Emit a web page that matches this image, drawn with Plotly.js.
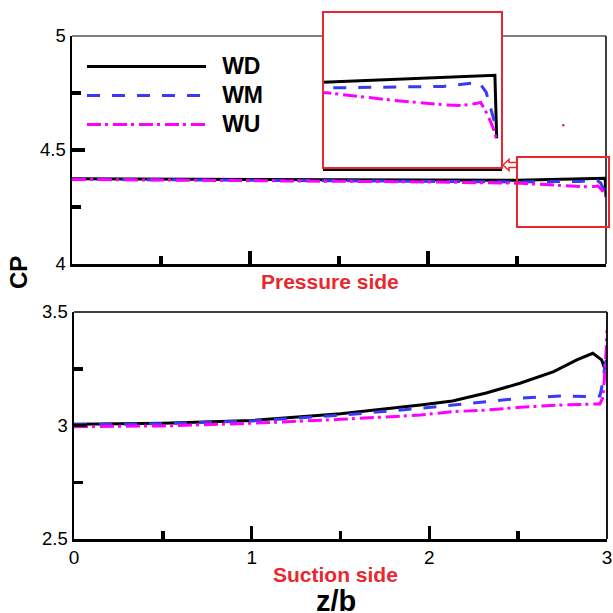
<!DOCTYPE html>
<html>
<head>
<meta charset="utf-8">
<script src="https://cdn.plot.ly/plotly-3.0.1.min.js"></script>
<style>html,body{margin:0;padding:0;background:#fff;}#chart{width:613px;height:613px;}</style>
</head>
<body>
<div id="chart"></div>
<script>
// ---------- data ----------
var seriesNames = ['WD', 'WM', 'WU'];

// Pressure side
var psX_WD = [0, 1, 2, 2.5, 2.995, 3.0];
var psCp_WD = [4.374, 4.371, 4.368, 4.367, 4.376, 4.297];
var psX_WM = [0, 1, 2, 2.5, 2.85, 2.93, 2.95, 2.97, 2.985, 3.0];
var psCp_WM = [4.372, 4.368, 4.364, 4.360, 4.362, 4.366, 4.367, 4.355, 4.330, 4.308];
var psX_WU = [0, 1, 2, 2.52, 2.7, 2.85, 2.9, 2.945, 2.955, 2.975, 2.99, 3.0];
var psCp_WU = [4.371, 4.366, 4.360, 4.354, 4.345, 4.339, 4.338, 4.341, 4.342, 4.326, 4.310, 4.295];

// Suction side
var ssX_WD = [0, 0.5, 1, 1.5, 1.95, 2.13, 2.32, 2.51, 2.7, 2.83, 2.92, 2.97, 2.985, 3.0];
var ssCp_WD = [3.005, 3.010, 3.022, 3.052, 3.090, 3.108, 3.143, 3.186, 3.237, 3.289, 3.318, 3.289, 3.255, 3.290];
var ssX_WM = [0, 0.5, 1, 1.5, 1.95, 2.13, 2.32, 2.51, 2.735, 2.9, 2.96, 2.975, 2.99, 3.0];
var ssCp_WM = [3.003, 3.008, 3.020, 3.045, 3.076, 3.090, 3.108, 3.120, 3.130, 3.127, 3.130, 3.186, 3.274, 3.300];
var ssX_WU = [0, 0.5, 1, 1.5, 1.95, 2.13, 2.32, 2.51, 2.735, 2.96, 2.975, 2.985, 2.995, 3.0];
var ssCp_WU = [2.995, 2.998, 3.010, 3.027, 3.046, 3.061, 3.068, 3.080, 3.090, 3.095, 3.120, 3.200, 3.330, 3.420];

// tick values / labels
var xTickVals = [0, 1, 2, 3];
var xTickText = ['0', '1', '2', '3'];
var psTickVals = [4, 4.5, 5];
var psTickText = ['4', '4.5', '5'];
var ssTickVals = [2.5, 3, 3.5];
var ssTickText = ['2.5', '3', '3.5'];

// ---------- styling ----------
var W = 613, H = 613;
function fx(p) { return p / W; }
function fy(p) { return 1 - p / H; }
var FONT = 'Arial, "Liberation Sans", sans-serif';
var RED = '#e8282e';
var lineStyles = {
  WD: {color: '#000000', width: 3, dash: 'solid'},
  WM: {color: '#3a3af5', width: 3, dash: '13px,12px'},
  WU: {color: '#ff00ff', width: 3, dash: '14px,4px,3px,5px'}
};

function legendLabel(name) {
  return '\u00a0\u00a0<span style="font-size:23px">' + name + '</span>';
}

function tr(x, y, name, xa, ya, showlegend) {
  return {x: x, y: y, name: legendLabel(name), type: 'scatter', mode: 'lines',
    xaxis: xa, yaxis: ya, showlegend: showlegend,
    line: lineStyles[name], hoverinfo: 'skip'};
}

var data = [
  tr(psX_WD, psCp_WD, 'WD', 'x', 'y', true),
  tr(psX_WM, psCp_WM, 'WM', 'x', 'y', true),
  tr(psX_WU, psCp_WU, 'WU', 'x', 'y', true),
  tr(ssX_WD, ssCp_WD, 'WD', 'x2', 'y2', false),
  tr(ssX_WM, ssCp_WM, 'WM', 'x2', 'y2', false),
  tr(ssX_WU, ssCp_WU, 'WU', 'x2', 'y2', false),
  tr(psX_WD, psCp_WD, 'WD', 'x3', 'y3', false),
  tr(psX_WM, psCp_WM, 'WM', 'x3', 'y3', false),
  tr(psX_WU, psCp_WU, 'WU', 'x3', 'y3', false)
];

function xAxis(domain, anchor, labels) {
  return {domain: domain, anchor: anchor, range: [0, 3], showgrid: false, zeroline: false,
    showline: true, linecolor: '#000', linewidth: 2.5,
    ticks: 'inside', ticklen: 13, tickwidth: 3.5, tickcolor: '#000',
    tickvals: xTickVals, ticktext: xTickText, showticklabels: labels,
    minor: {ticks: 'inside', ticklen: 8, tickwidth: 3.5, tickcolor: '#000', dtick: 0.5, tick0: 0, showgrid: false},
    tickfont: {family: FONT, size: 19, color: '#000'}, fixedrange: true};
}
function yAxis(domain, anchor, range, vals, text) {
  return {domain: domain, anchor: anchor, range: range, showgrid: false, zeroline: false,
    showline: true, linecolor: '#000', linewidth: 2.5,
    ticks: 'inside', ticklen: 13, tickwidth: 3.5, tickcolor: '#000',
    tickvals: vals, ticktext: text,
    minor: {ticks: 'inside', ticklen: 9, tickwidth: 3.5, tickcolor: '#000', dtick: 0.25, tick0: range[0], showgrid: false},
    tickfont: {family: FONT, size: 18.5, color: '#000'}, fixedrange: true};
}

function seg(x0, y0, x1, y1, color, width) {
  return {type: 'line', xref: 'paper', yref: 'paper', x0: fx(x0), y0: fy(y0), x1: fx(x1), y1: fy(y1),
    line: {color: color, width: width}};
}
function P(x, y) { return fx(x) + ',' + fy(y); }

var layout = {
  width: W, height: H,
  margin: {l: 0, r: 0, t: 0, b: 0, pad: 0},
  paper_bgcolor: '#fff', plot_bgcolor: '#fff',
  showlegend: true,
  legend: {x: fx(82), y: fy(47), xanchor: 'left', yanchor: 'top', bgcolor: 'rgba(0,0,0,0)',
    borderwidth: 0, itemwidth: 119, traceorder: 'normal',
    font: {family: FONT, size: 20, color: '#000', weight: 'bold'}},
  xaxis: xAxis([fx(72), fx(606)], 'y', false),
  yaxis: yAxis([fy(264), fy(36)], 'x', [4, 5], psTickVals, psTickText),
  xaxis2: xAxis([fx(74), fx(607)], 'y2', true),
  yaxis2: yAxis([fy(539), fy(312)], 'x2', [2.5, 3.5], ssTickVals, ssTickText),
  xaxis3: {domain: [fx(323), fx(502)], anchor: 'y3', range: [2.51, 3.015], showgrid: false, zeroline: false,
    showline: true, linecolor: '#000', linewidth: 2.5, ticks: '', showticklabels: false, fixedrange: true},
  yaxis3: {domain: [fy(168), fy(12)], anchor: 'x3', range: [4.26, 4.455], showgrid: false, zeroline: false,
    showline: false, ticks: '', showticklabels: false, fixedrange: true},
  shapes: [
    seg(72, 36, 323, 36, '#000', 1.2),
    seg(502, 36, 606, 36, '#000', 1.2),
    seg(606, 36, 606, 264, '#000', 1.5),
    seg(74, 312, 607, 312, '#000', 1.5),
    seg(607, 312, 607, 539, '#000', 1.8),
    {type: 'rect', xref: 'paper', yref: 'paper', x0: fx(323), x1: fx(502), y0: fy(168), y1: fy(12),
      line: {color: RED, width: 2}, fillcolor: 'rgba(0,0,0,0)'},
    {type: 'rect', xref: 'paper', yref: 'paper', x0: fx(517), x1: fx(609), y0: fy(227), y1: fy(157),
      line: {color: RED, width: 2}, fillcolor: 'rgba(0,0,0,0)'},
    {type: 'path', xref: 'paper', yref: 'paper',
      path: 'M' + P(503, 165) + 'L' + P(509, 159.5) + 'L' + P(509, 162.5) + 'L' + P(517, 162.5) +
            'L' + P(517, 167.5) + 'L' + P(509, 167.5) + 'L' + P(509, 170.5) + 'Z',
      line: {color: RED, width: 1.5}, fillcolor: 'rgba(0,0,0,0)'},
    {type: 'circle', xref: 'paper', yref: 'paper', x0: fx(562), x1: fx(564.5), y0: fy(126.5), y1: fy(124),
      line: {color: RED, width: 0}, fillcolor: RED}
  ],
  annotations: [
    {text: '<b>CP</b>', xref: 'paper', yref: 'paper', x: fx(19), y: fy(273), textangle: -90,
      showarrow: false, xanchor: 'center', yanchor: 'middle', font: {family: FONT, size: 24, color: '#000'}},
    {text: '<b>Pressure side</b>', xref: 'paper', yref: 'paper', x: fx(330), y: fy(281),
      showarrow: false, xanchor: 'center', yanchor: 'middle', font: {family: FONT, size: 21, color: RED}},
    {text: '<b>Suction side</b>', xref: 'paper', yref: 'paper', x: fx(335), y: fy(574),
      showarrow: false, xanchor: 'center', yanchor: 'middle', font: {family: FONT, size: 21, color: RED}},
    {text: '<b>z/b</b>', xref: 'paper', yref: 'paper', x: fx(336), y: fy(583),
      showarrow: false, xanchor: 'center', yanchor: 'top', font: {family: FONT, size: 29, color: '#000'}}
  ]
};

Plotly.newPlot('chart', data, layout, {displayModeBar: false, staticPlot: true});
</script>
</body>
</html>
